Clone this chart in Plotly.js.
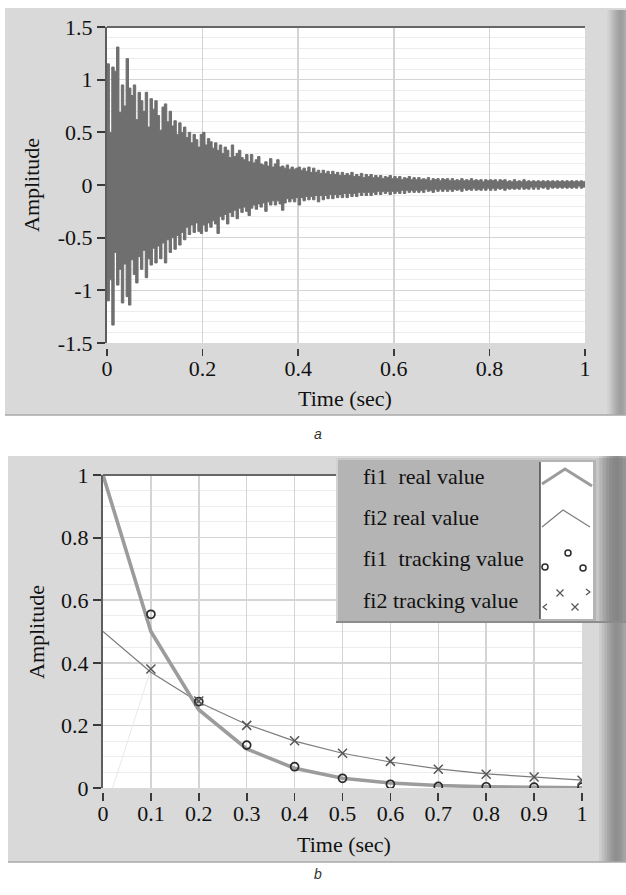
<!DOCTYPE html>
<html>
<head>
<meta charset="utf-8">
<script src="https://cdn.plot.ly/plotly-3.0.1.min.js"></script>
<style>html,body{margin:0;padding:0;background:#fff;}#chart{width:626px;height:895px;}</style>
</head>
<body>
<div id="chart"></div>
<script>
// ---------- DATA ----------
// Panel a: decaying vibration signal, sampled every 0.005 s (per-sample max and min)
const waveStart = 0;
const waveStep = 0.005;
const waveMax = [
  1.15, 0.50, 1.12, 1.08, 1.31, 0.69, 0.95, 0.75, 1.20, 0.92,
  0.85, 0.95, 0.62, 0.88, 0.80, 0.70, 0.88, 0.55, 0.82, 0.72,
  0.80, 0.66, 0.52, 0.74, 0.77, 0.60, 0.70, 0.56, 0.61, 0.48,
  0.59, 0.50, 0.55, 0.45, 0.50, 0.40, 0.48, 0.43, 0.36, 0.48,
  0.50, 0.38, 0.44, 0.41, 0.35, 0.40, 0.33, 0.38, 0.30, 0.36,
  0.33, 0.26, 0.38, 0.27, 0.30, 0.33, 0.26, 0.24, 0.29, 0.22,
  0.29, 0.21, 0.24, 0.27, 0.20, 0.19, 0.22, 0.18, 0.25, 0.17,
  0.20, 0.24, 0.17, 0.18, 0.16, 0.19, 0.15, 0.17, 0.15, 0.16,
  0.17, 0.14, 0.16, 0.13, 0.17, 0.12, 0.16, 0.12, 0.14, 0.11,
  0.14, 0.11, 0.13, 0.10, 0.13, 0.10, 0.12, 0.09, 0.12, 0.09,
  0.11, 0.09, 0.12, 0.08, 0.10, 0.08, 0.11, 0.07, 0.10, 0.08,
  0.10, 0.07, 0.09, 0.07, 0.09, 0.06, 0.08, 0.07, 0.09, 0.06,
  0.08, 0.06, 0.08, 0.05, 0.07, 0.06, 0.08, 0.05, 0.07, 0.05,
  0.07, 0.05, 0.06, 0.05, 0.07, 0.04, 0.06, 0.05, 0.06, 0.04,
  0.06, 0.05, 0.06, 0.04, 0.06, 0.04, 0.05, 0.04, 0.06, 0.04,
  0.05, 0.04, 0.06, 0.04, 0.05, 0.04, 0.05, 0.03, 0.05, 0.04,
  0.05, 0.04, 0.05, 0.03, 0.05, 0.04, 0.05, 0.03, 0.04, 0.03,
  0.05, 0.03, 0.04, 0.03, 0.05, 0.03, 0.04, 0.03, 0.04, 0.03,
  0.04, 0.03, 0.04, 0.03, 0.04, 0.03, 0.04, 0.03, 0.04, 0.03,
  0.04, 0.03, 0.04, 0.03, 0.04, 0.03, 0.04, 0.03, 0.04, 0.03,
  0.04
];
const waveMin = [
  -1.10, -0.90, -1.33, -0.64, -0.95, -0.80, -1.12, -0.75, -1.06, -1.14,
  -0.71, -0.85, -0.93, -0.68, -0.80, -0.62, -0.88, -0.70, -0.76, -0.60,
  -0.74, -0.58, -0.70, -0.55, -0.74, -0.52, -0.64, -0.50, -0.61, -0.48,
  -0.57, -0.45, -0.52, -0.40, -0.47, -0.38, -0.45, -0.36, -0.44, -0.46,
  -0.38, -0.44, -0.36, -0.40, -0.34, -0.37, -0.46, -0.30, -0.33, -0.28,
  -0.37, -0.26, -0.30, -0.24, -0.32, -0.22, -0.26, -0.21, -0.25, -0.29,
  -0.22, -0.19, -0.23, -0.18, -0.21, -0.17, -0.25, -0.16, -0.19, -0.15,
  -0.19, -0.15, -0.18, -0.24, -0.17, -0.13, -0.16, -0.13, -0.16, -0.12,
  -0.19, -0.12, -0.15, -0.11, -0.14, -0.11, -0.14, -0.10, -0.16, -0.10,
  -0.14, -0.10, -0.13, -0.09, -0.13, -0.09, -0.12, -0.09, -0.12, -0.08,
  -0.12, -0.08, -0.11, -0.08, -0.11, -0.07, -0.10, -0.07, -0.10, -0.07,
  -0.10, -0.07, -0.09, -0.06, -0.09, -0.06, -0.08, -0.06, -0.09, -0.06,
  -0.08, -0.06, -0.08, -0.05, -0.08, -0.05, -0.07, -0.05, -0.07, -0.05,
  -0.07, -0.05, -0.07, -0.04, -0.06, -0.05, -0.07, -0.04, -0.06, -0.04,
  -0.06, -0.04, -0.06, -0.04, -0.06, -0.04, -0.05, -0.04, -0.06, -0.03,
  -0.05, -0.04, -0.05, -0.03, -0.05, -0.04, -0.05, -0.03, -0.05, -0.03,
  -0.05, -0.03, -0.05, -0.03, -0.04, -0.03, -0.05, -0.03, -0.04, -0.03,
  -0.04, -0.03, -0.04, -0.02, -0.04, -0.03, -0.04, -0.02, -0.04, -0.02,
  -0.04, -0.02, -0.03, -0.02, -0.04, -0.02, -0.03, -0.02, -0.03, -0.02,
  -0.03, -0.02, -0.03, -0.02, -0.03, -0.02, -0.03, -0.01, -0.03, -0.02,
  -0.02
];
const topXTickVals = [0, 0.2, 0.4, 0.6, 0.8, 1];
const topXTickText = ['0', '0.2', '0.4', '0.6', '0.8', '1'];
const topYTickVals = [-1.5, -1, -0.5, 0, 0.5, 1, 1.5];
const topYTickText = ['-1.5', '-1', '-0.5', '0', '0.5', '1', '1.5'];

// Panel b: real and tracked values
const times = [0, 0.1, 0.2, 0.3, 0.4, 0.5, 0.6, 0.7, 0.8, 0.9, 1];
const fi1Real = [1, 0.5, 0.25, 0.125, 0.063, 0.031, 0.016, 0.008, 0.004, 0.002, 0.001];
const fi2Real = [0.5, 0.37, 0.274, 0.203, 0.15, 0.111, 0.083, 0.061, 0.045, 0.034, 0.025];
const trackTimes = [0.1, 0.2, 0.3, 0.4, 0.5, 0.6, 0.7, 0.8, 0.9, 1];
const fi1Track = [0.555, 0.276, 0.137, 0.068, 0.031, 0.012, 0.005, 0.004, 0.003, 0.003];
const fi2Track = [0.38, 0.278, 0.2, 0.151, 0.111, 0.085, 0.06, 0.044, 0.035, 0.025];
const fi2TrackLeadTime = [0.02, 0.1];   // faint lead-in segment of the tracking curve
const fi2TrackLeadValue = [0, 0.38];
const botXTickVals = [0, 0.1, 0.2, 0.3, 0.4, 0.5, 0.6, 0.7, 0.8, 0.9, 1];
const botXTickText = ['0', '0.1', '0.2', '0.3', '0.4', '0.5', '0.6', '0.7', '0.8', '0.9', '1'];
const botYTickVals = [0, 0.2, 0.4, 0.6, 0.8, 1];
const botYTickText = ['0', '0.2', '0.4', '0.6', '0.8', '1'];
const legendLabels = ['fi1\u00a0 real value', 'fi2 real value', 'fi1\u00a0 tracking value', 'fi2 tracking value'];

// ---------- LAYOUT HELPERS ----------
const W = 626, H = 895;
const px = v => v / W;
const py = v => 1 - v / H;
const pathOf = pts => pts.map((p, i) => (i ? 'L' : 'M') + px(p[0]).toFixed(5) + ',' + py(p[1]).toFixed(5)).join(' ');
const SERIF = 'Liberation Serif, Times New Roman, serif';
const TXT = '#111111';
const WAVE = '#6f6f6f';

const traces = [
  { x0: waveStart, dx: waveStep, y: waveMin, type: 'scatter', mode: 'lines',
    line: { shape: 'hv', width: 1, color: WAVE }, xaxis: 'x', yaxis: 'y', hoverinfo: 'skip' },
  { x0: waveStart, dx: waveStep, y: waveMax, type: 'scatter', mode: 'lines', fill: 'tonexty', fillcolor: WAVE,
    line: { shape: 'hv', width: 1, color: WAVE }, xaxis: 'x', yaxis: 'y', hoverinfo: 'skip' },
  // carriers for the offset tick axes (no visible marks)
  { x: topXTickVals, y: topXTickVals.map(() => null), type: 'scatter', mode: 'markers', xaxis: 'x3', yaxis: 'y', hoverinfo: 'skip' },
  { x: botXTickVals, y: botXTickVals.map(() => null), type: 'scatter', mode: 'markers', xaxis: 'x4', yaxis: 'y2', hoverinfo: 'skip' },
  { x: fi2TrackLeadTime, y: fi2TrackLeadValue, type: 'scatter', mode: 'lines',
    line: { color: '#e9e9e9', width: 1 }, xaxis: 'x2', yaxis: 'y2', hoverinfo: 'skip' },
  { x: times, y: fi2Real, name: legendLabels[1], type: 'scatter', mode: 'lines',
    line: { color: '#7c7c7c', width: 1.2 }, xaxis: 'x2', yaxis: 'y2' },
  { x: times, y: fi1Real, name: legendLabels[0], type: 'scatter', mode: 'lines',
    line: { color: '#9c9c9c', width: 3.6 }, xaxis: 'x2', yaxis: 'y2' },
  { x: trackTimes, y: fi1Track, name: legendLabels[2], type: 'scatter', mode: 'markers',
    marker: { symbol: 'circle-open', size: 8, color: '#2a2a2a', line: { width: 1.7, color: '#2a2a2a' } },
    xaxis: 'x2', yaxis: 'y2' },
  { x: trackTimes, y: fi2Track, name: legendLabels[3], type: 'scatter', mode: 'markers',
    marker: { symbol: 'x-thin-open', size: 9, color: '#555', line: { width: 1.5, color: '#555' } },
    xaxis: 'x2', yaxis: 'y2' }
];

const gridMajor = '#d4d4d4';
const gridMinor = '#ececec';
const tickFont = { family: SERIF, size: 22, color: TXT };

const shapes = [];
// Panel frames
shapes.push({ type: 'rect', xref: 'paper', yref: 'paper', x0: px(5), x1: px(626), y0: py(415), y1: py(8),
  fillcolor: '#d9d9d9', line: { width: 0 }, layer: 'below' });
shapes.push({ type: 'rect', xref: 'paper', yref: 'paper', x0: px(8), x1: px(626), y0: py(862), y1: py(456),
  fillcolor: '#d9d9d9', line: { width: 0 }, layer: 'below' });
// right-side bevel bars (overlapping strips for a smooth gradient)
const bevelTop = ['#d3d3d3', '#cbcbcb', '#c2c2c2', '#b8b8b8', '#afafaf', '#a7a7a7', '#a1a1a1', '#9e9e9e', '#a3a3a3', '#ababab'];
bevelTop.forEach((c, i) => {
  shapes.push({ type: 'rect', xref: 'paper', yref: 'paper', x0: px(607 + i * 1.9), x1: px(610 + i * 1.9), y0: py(415), y1: py(10),
    fillcolor: c, line: { width: 0 }, layer: 'below' });
});
const bevelBot = ['#cdcdcd', '#c0c0c0', '#b3b3b3', '#a6a6a6', '#9b9b9b', '#939393', '#8f8f8f', '#929292', '#9a9a9a', '#a5a5a5'];
bevelBot.forEach((c, i) => {
  shapes.push({ type: 'rect', xref: 'paper', yref: 'paper', x0: px(599 + i * 2.7), x1: px(603 + i * 2.7), y0: py(862), y1: py(456),
    fillcolor: c, line: { width: 0 }, layer: 'below' });
});
// frame bottom shadows
shapes.push({ type: 'line', xref: 'paper', yref: 'paper', x0: px(5), x1: px(626), y0: py(415), y1: py(415),
  line: { color: '#a9a9a9', width: 1.5 }, layer: 'below' });
shapes.push({ type: 'line', xref: 'paper', yref: 'paper', x0: px(8), x1: px(626), y0: py(862), y1: py(862),
  line: { color: '#a9a9a9', width: 1.5 }, layer: 'below' });
// plot areas
shapes.push({ type: 'rect', xref: 'x domain', yref: 'y domain', x0: 0, x1: 1, y0: 0, y1: 1,
  fillcolor: '#ffffff', line: { width: 0 }, layer: 'below' });
shapes.push({ type: 'rect', xref: 'x2 domain', yref: 'y2 domain', x0: 0, x1: 1, y0: 0, y1: 1,
  fillcolor: '#ffffff', line: { width: 0 }, layer: 'below' });
// top borders of plot areas
shapes.push({ type: 'line', xref: 'x domain', yref: 'y domain', x0: 0, x1: 1, y0: 1, y1: 1,
  line: { color: '#666666', width: 2 } });
shapes.push({ type: 'line', xref: 'x2 domain', yref: 'y2 domain', x0: 0, x1: 1, y0: 1, y1: 1,
  line: { color: '#666666', width: 2 } });

// Legend panel (drawn above the plot)
shapes.push({ type: 'rect', xref: 'paper', yref: 'paper', x0: px(336), x1: px(600), y0: py(622), y1: py(458),
  fillcolor: '#b4b4b4', line: { width: 0 } });
shapes.push({ type: 'line', xref: 'paper', yref: 'paper', x0: px(337), x1: px(337), y0: py(622), y1: py(458),
  line: { color: '#d2d2d2', width: 2 } });
shapes.push({ type: 'line', xref: 'paper', yref: 'paper', x0: px(336), x1: px(600), y0: py(459), y1: py(459),
  line: { color: '#d0d0d0', width: 1.5 } });
shapes.push({ type: 'line', xref: 'paper', yref: 'paper', x0: px(336), x1: px(626), y0: py(622), y1: py(622),
  line: { color: '#8c8c8c', width: 2 } });
const bevelLeg = ['#c6c6c6', '#b5b5b5', '#a5a5a5', '#989898', '#8e8e8e', '#888888', '#868686', '#8b8b8b', '#949494'];
bevelLeg.forEach((c, i) => {
  shapes.push({ type: 'rect', xref: 'paper', yref: 'paper', x0: px(596 + i * 3.3), x1: px(600.5 + i * 3.3), y0: py(621), y1: py(458),
    fillcolor: c, line: { width: 0 } });
});
shapes.push({ type: 'rect', xref: 'paper', yref: 'paper', x0: px(540), x1: px(593), y0: py(619), y1: py(462),
  fillcolor: '#ffffff', line: { width: 0 } });
shapes.push({ type: 'line', xref: 'paper', yref: 'paper', x0: px(540), x1: px(540), y0: py(619), y1: py(462),
  line: { color: '#4a4a4a', width: 1.5 } });
// legend glyphs
shapes.push({ type: 'path', xref: 'paper', yref: 'paper', path: pathOf([[542, 484], [565, 469], [592, 486]]),
  line: { color: '#9c9c9c', width: 3 } });
shapes.push({ type: 'path', xref: 'paper', yref: 'paper', path: pathOf([[542, 527], [563, 510], [590, 527]]),
  line: { color: '#7c7c7c', width: 1.2 } });
[[545, 567], [568, 553], [583, 568]].forEach(c => {
  shapes.push({ type: 'circle', xref: 'paper', yref: 'paper', x0: px(c[0] - 3), x1: px(c[0] + 3), y0: py(c[1] + 3), y1: py(c[1] - 3),
    line: { color: '#2a2a2a', width: 1.5 } });
});
[[560, 593], [575, 607]].forEach(c => {
  shapes.push({ type: 'path', xref: 'paper', yref: 'paper',
    path: pathOf([[c[0] - 3.5, c[1] - 3.5], [c[0] + 3.5, c[1] + 3.5]]) + ' ' + pathOf([[c[0] - 3.5, c[1] + 3.5], [c[0] + 3.5, c[1] - 3.5]]),
    line: { color: '#555', width: 1.2 } });
});
shapes.push({ type: 'path', xref: 'paper', yref: 'paper', path: pathOf([[586, 589], [590, 592], [586, 595]]),
  line: { color: '#555', width: 1.2 } });
shapes.push({ type: 'path', xref: 'paper', yref: 'paper', path: pathOf([[547, 604], [543, 607], [547, 610]]),
  line: { color: '#555', width: 1.2 } });

const annotations = [
  { text: 'Amplitude', x: px(31), y: py(185), textangle: -90 },
  { text: 'Time (sec)', x: px(345), y: py(399) },
  { text: 'Amplitude', x: px(36), y: py(632), textangle: -90 },
  { text: 'Time (sec)', x: px(344), y: py(844) }
].map(a => Object.assign({ xref: 'paper', yref: 'paper', showarrow: false, xanchor: 'center', yanchor: 'middle',
  font: { family: SERIF, size: 22, color: TXT } }, a));
const legendRows = [476, 517, 558, 600];
legendLabels.forEach((t, i) => annotations.push({ text: t, xref: 'paper', yref: 'paper', x: px(361), y: py(legendRows[i]),
  xanchor: 'left', yanchor: 'middle', showarrow: false, font: { family: SERIF, size: 22, color: '#111' } }));
annotations.push({ text: 'a', xref: 'paper', yref: 'paper', x: px(318), y: py(434), showarrow: false,
  font: { family: 'Liberation Sans, Arial, sans-serif', size: 14, color: '#333', style: 'italic' } });
annotations.push({ text: 'b', xref: 'paper', yref: 'paper', x: px(318), y: py(884), showarrow: false,
  font: { family: 'Liberation Sans, Arial, sans-serif', size: 14, color: '#333', style: 'italic' } });

const layout = {
  width: W, height: H, margin: { l: 0, r: 0, t: 0, b: 0 },
  paper_bgcolor: '#ffffff', plot_bgcolor: 'rgba(0,0,0,0)', showlegend: false,
  font: { family: SERIF, size: 22, color: TXT },
  xaxis: { domain: [px(107), px(585)], range: [0, 1], anchor: 'y', tickmode: 'array', tickvals: topXTickVals,
    showticklabels: false, ticks: '', showgrid: true, gridcolor: gridMajor, gridwidth: 1.5, zeroline: false, showline: false },
  yaxis: { domain: [py(343), py(27)], range: [-1.5, 1.5], anchor: 'x', tickmode: 'array', tickvals: topYTickVals, ticktext: topYTickText,
    ticks: 'outside', ticklen: 8, tickwidth: 2, tickcolor: '#3a3a3a', tickfont: tickFont,
    showline: true, linecolor: '#5e5e5e', linewidth: 2, showgrid: true, gridcolor: gridMajor, gridwidth: 1.5, zeroline: false,
    minor: { tickmode: 'linear', tick0: 0, dtick: 0.1, showgrid: true, gridcolor: gridMinor, gridwidth: 1, ticks: '' } },
  xaxis3: { overlaying: 'x', anchor: 'free', position: py(348), range: [0, 1], tickmode: 'array', tickvals: topXTickVals, ticktext: topXTickText,
    ticks: 'outside', ticklen: 7, tickwidth: 1.6, tickcolor: '#3a3a3a', tickfont: tickFont, ticklabelstandoff: -6,
    showgrid: false, zeroline: false, showline: false },
  xaxis2: { domain: [px(103), px(582)], range: [0, 1], anchor: 'y2', tickmode: 'array', tickvals: botXTickVals,
    showticklabels: false, ticks: '', showgrid: true, gridcolor: gridMajor, gridwidth: 1.5, zeroline: false, showline: false },
  yaxis2: { domain: [py(788), py(475)], range: [0, 1], anchor: 'x2', tickmode: 'array', tickvals: botYTickVals, ticktext: botYTickText,
    ticks: 'outside', ticklen: 8, tickwidth: 2, tickcolor: '#3a3a3a', tickfont: tickFont,
    showline: true, linecolor: '#5e5e5e', linewidth: 2, showgrid: true, gridcolor: gridMajor, gridwidth: 1.5, zeroline: false,
    minor: { tickmode: 'linear', tick0: 0, dtick: 0.05, showgrid: true, gridcolor: gridMinor, gridwidth: 1, ticks: '' } },
  xaxis4: { overlaying: 'x2', anchor: 'free', position: py(792), range: [0, 1], tickmode: 'array', tickvals: botXTickVals, ticktext: botXTickText,
    ticks: 'outside', ticklen: 8, tickwidth: 1.6, tickcolor: '#3a3a3a', tickfont: tickFont, ticklabelstandoff: -6,
    showgrid: false, zeroline: false, showline: false },
  shapes: shapes,
  annotations: annotations
};

Plotly.newPlot('chart', traces, layout, { staticPlot: true, displayModeBar: false });
</script>
</body>
</html>
